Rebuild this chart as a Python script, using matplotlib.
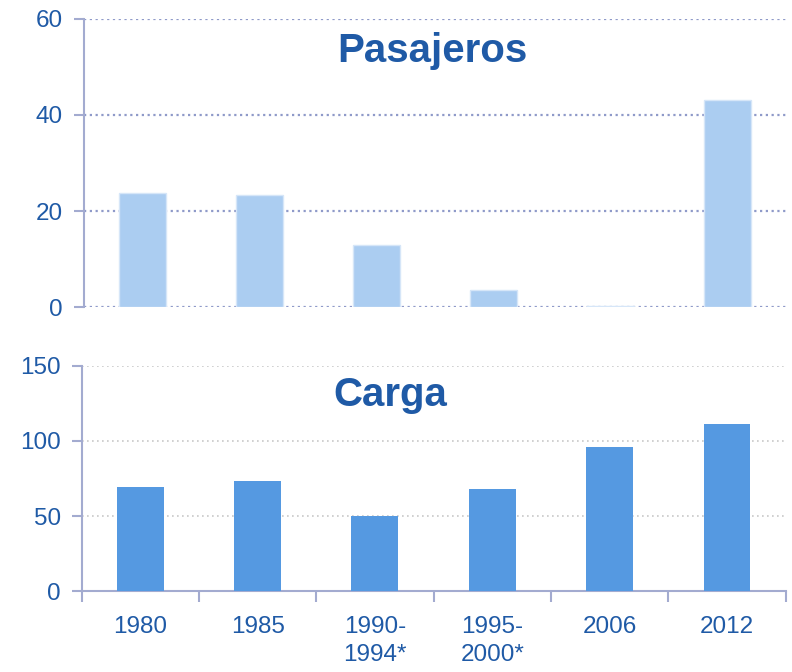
import matplotlib
matplotlib.use("Agg")
import matplotlib.pyplot as plt
from matplotlib import font_manager as fm

names = {f.name for f in fm.fontManager.ttflist}
fam = 'Liberation Sans Narrow' if 'Liberation Sans Narrow' in names else 'Liberation Sans'
plt.rcParams['font.family'] = [fam, 'DejaVu Sans']

categories = ['1980', '1985', '1990-\n1994*', '1995-\n2000*', '2006', '2012']
pasajeros = [23.7, 23.3, 12.9, 3.5, 0.2, 43.2]
carga = [69.3, 73.3, 50.0, 68.0, 96.0, 111.3]

txt = '#1f5aa6'
spine = '#a3abd0'
fig = plt.figure(figsize=(7.92, 6.72), dpi=100)

ax1 = fig.add_axes([0.106, 0.543, 0.886, 0.429])
ax2 = fig.add_axes([0.103, 0.1205, 0.889, 0.3349])
x = range(len(categories))

ax1.bar(x, pasajeros, width=0.4, color='#abcdf1', edgecolor='#d6e6f8', linewidth=1, zorder=3)
ax2.bar(x, carga, width=0.4, color='#5599e1', zorder=3)

ax1.set_ylim(0, 60); ax1.set_yticks([0, 20, 40, 60])
ax2.set_ylim(0, 150); ax2.set_yticks([0, 50, 100, 150])
for ax in (ax1, ax2):
    ax.set_xlim(-0.5, 5.5)
    for s in ('top', 'right'):
        ax.spines[s].set_visible(False)
    ax.spines['left'].set_color(spine)
    ax.spines['left'].set_linewidth(1.5)
    ax.tick_params(axis='y', colors=spine, labelcolor=txt, labelsize=17.5, length=7, width=1.5, pad=8)

ax1.spines['bottom'].set_visible(False)
ax1.set_xticks([])
ax1.yaxis.grid(True, linestyle=(0, (1, 1.6)), color='#8f9ac9', linewidth=1.6)
ax1.set_axisbelow(True)

ax2.yaxis.grid(True, linestyle=(0, (1, 2)), color='#c8c8c8', linewidth=1.2)
ax2.set_axisbelow(True)
ax2.spines['bottom'].set_color(spine)
ax2.spines['bottom'].set_linewidth(1.5)
ax2.set_xticks([i - 0.5 for i in range(len(categories) + 1)])
ax2.set_xticklabels([])
ax2.set_xticks(list(x), minor=True)
ax2.set_xticklabels(categories, minor=True, linespacing=1.35)
ax2.tick_params(axis='x', which='major', colors=spine, length=8, width=1.5)
ax2.tick_params(axis='x', which='minor', length=0, labelcolor=txt, labelsize=17.5, pad=18)

ax1.text(0.496, 0.89, 'Pasajeros', transform=ax1.transAxes, ha='center', va='center',
         fontsize=29, fontweight='bold', color=txt)
ax2.text(0.439, 0.87, 'Carga', transform=ax2.transAxes, ha='center', va='center',
         fontsize=29, fontweight='bold', color=txt)

fig.savefig('out.png', dpi=100)
